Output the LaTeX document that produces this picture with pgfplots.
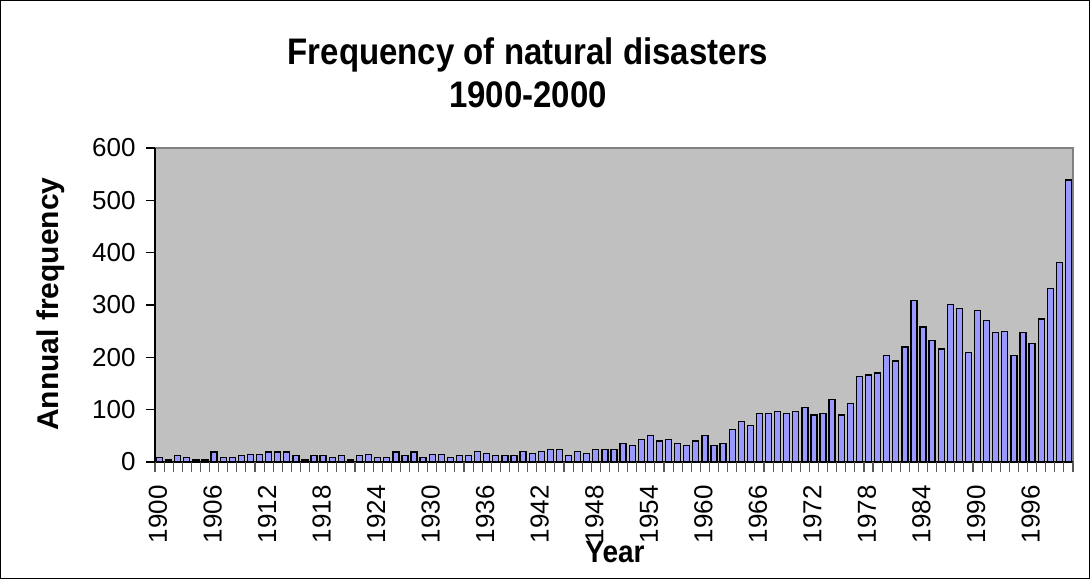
\documentclass[border=0pt]{standalone}
\usepackage{fontspec}
\setmainfont{Liberation Sans}
\usepackage{pgfplots}
\usepackage{pgfplotstable}
\pgfplotsset{compat=1.18}

\definecolor{plotbg}{HTML}{C0C0C0}
\definecolor{barfill}{HTML}{9999FF}
\definecolor{framegray}{HTML}{808080}
\definecolor{tickgray}{HTML}{5A5A5A}

% Annual number of recorded natural disasters
\pgfplotstableread{
year count
1900 8
1901 4
1902 12
1903 8
1904 4
1905 4
1906 19
1907 8
1908 8
1909 12
1910 15
1911 15
1912 19
1913 19
1914 19
1915 12
1916 4
1917 12
1918 12
1919 8
1920 12
1921 4
1922 12
1923 15
1924 8
1925 8
1926 19
1927 12
1928 19
1929 8
1930 15
1931 15
1932 8
1933 12
1934 12
1935 20
1936 16
1937 12
1938 12
1939 12
1940 20
1941 16
1942 20
1943 24
1944 24
1945 12
1946 20
1947 16
1948 24
1949 24
1950 24
1951 35
1952 31
1953 43
1954 51
1955 40
1956 43
1957 35
1958 31
1959 40
1960 51
1961 31
1962 35
1963 62
1964 77
1965 70
1966 93
1967 93
1968 97
1969 93
1970 97
1971 104
1972 90
1973 93
1974 120
1975 90
1976 112
1977 163
1978 166
1979 170
1980 204
1981 193
1982 220
1983 308
1984 258
1985 232
1986 216
1987 301
1988 293
1989 209
1990 289
1991 270
1992 247
1993 250
1994 204
1995 247
1996 227
1997 273
1998 332
1999 381
2000 539
}\disasters

\begin{document}
\begin{tikzpicture}
\begin{axis}[
  at={(0,0)}, anchor=south west,
  scale only axis, width=918bp, height=314bp,
  xmin=1899.5, xmax=2000.5, ymin=0, ymax=600,
  ybar, bar width=6bp,
  axis background/.style={fill=plotbg},
  axis line style={draw=framegray, line width=1.2bp},
  tick align=outside, tick pos=left,
  xtick={1900,1906,...,1996},
  ytick={0,100,...,600},
  major tick length=0pt,
  tick label style={font=\fontsize{26bp}{30bp}\selectfont},
  /pgf/number format/assume math mode=true,
  /pgf/number format/1000 sep={},
  xticklabel style={rotate=90, anchor=east, xshift=-20bp, yshift=1.5bp},
  yticklabel style={xshift=-16bp},
  clip=false,
]
\addplot[fill=barfill, draw=black, line width=1.3bp] table[x=year, y=count] {\disasters};
% axis lines and tick marks: one mark on each boundary between years
\draw[black, line width=1.3bp] (rel axis cs:0,1) -- (rel axis cs:0,0) -- (rel axis cs:1,0);
\pgfplotsinvokeforeach{0,...,101}{
  \draw[tickgray, line width=1.1bp] (rel axis cs:0,0) ++(#1*9.0891bp,0bp) -- ++(0bp,-10bp);
}
\pgfplotsinvokeforeach{0,...,6}{
  \draw[black, line width=1.1bp] (rel axis cs:0,0) ++(0bp,#1*52.3333bp) -- ++(-9bp,0bp);
}
\end{axis}

% titles and axis labels
\node[font=\bfseries\fontsize{33bp}{40bp}\selectfont, anchor=base, yscale=1.12] at (373bp,397bp) {Frequency of natural disasters};
\node[font=\bfseries\fontsize{33bp}{40bp}\selectfont, anchor=base, yscale=1.12] at (373bp,354bp) {1900-2000};
\node[font=\bfseries\fontsize{30bp}{36bp}\selectfont, rotate=90] at (-104bp,158bp) {Annual frequency};
\node[font=\bfseries\fontsize{28bp}{34bp}\selectfont, anchor=base, yscale=1.1] at (460bp,-100bp) {Year};

% chart frame
\draw[black, line width=1bp] (-154.5bp,-116.5bp) rectangle (934.5bp,461.5bp);
\pgfresetboundingbox
\useasboundingbox (-155bp,-117bp) rectangle (935bp,462bp);
\end{tikzpicture}
\end{document}
